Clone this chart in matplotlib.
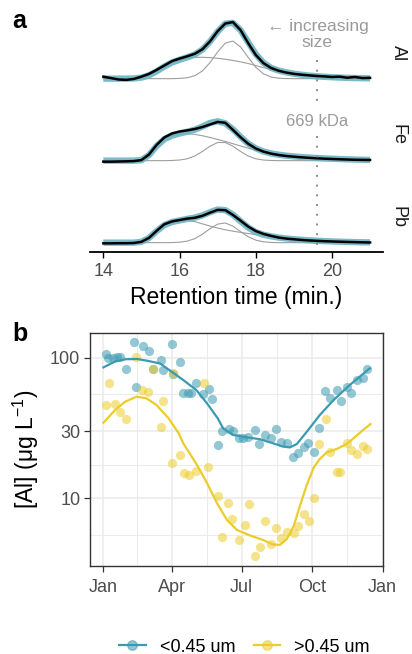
import numpy as np
import matplotlib
matplotlib.use('Agg')
import matplotlib.pyplot as plt
from matplotlib import transforms
from matplotlib.lines import Line2D
from matplotlib.ticker import FixedLocator, NullFormatter

plt.rcParams['font.family'] = ['Liberation Sans', 'DejaVu Sans']
plt.rcParams['mathtext.fontset'] = 'custom'
plt.rcParams['mathtext.rm'] = 'Liberation Sans'
plt.rcParams['mathtext.it'] = 'Liberation Sans:italic'
plt.rcParams['mathtext.bf'] = 'Liberation Sans:bold'

# ---------------- Panel a data ----------------
elements = ['Al', 'Fe', 'Pb']
rt = [14.0, 14.2, 14.4, 14.6, 14.8, 15.0, 15.2, 15.4, 15.6, 15.8, 16.0, 16.2,
      16.4, 16.6, 16.8, 17.0, 17.2, 17.4, 17.6, 17.8, 18.0, 18.2, 18.4, 18.6,
      18.8, 19.0, 19.2, 19.4, 19.6, 19.8, 20.0, 20.2, 20.4, 20.6, 20.8, 21.0]

al_signal = [0.035, 0.01, -0.015, -0.022, -0.005, 0.035, 0.085, 0.155, 0.232, 0.31, 0.355, 0.395,
             0.44, 0.52, 0.66, 0.84, 0.975, 1.0, 0.86, 0.63, 0.42, 0.275, 0.19, 0.14,
             0.108, 0.085, 0.07, 0.058, 0.047, 0.04, 0.03, 0.036, 0.016, 0.03, 0.01, 0.014]
al_broad = [0, 0, 0, 0.001, 0.004, 0.018, 0.06, 0.13, 0.215, 0.285, 0.33, 0.36,
            0.375, 0.378, 0.372, 0.36, 0.343, 0.322, 0.298, 0.268, 0.232, 0.196, 0.163, 0.135,
            0.11, 0.088, 0.07, 0.054, 0.043, 0.033, 0.025, 0.019, 0.014, 0.01, 0.008, 0.006]
al_narrow = [0, 0, 0, 0, 0, 0, 0, 0, 0, 0, 0.004, 0.016,
             0.052, 0.136, 0.284, 0.473, 0.629, 0.665, 0.561, 0.377, 0.202, 0.086, 0.029, 0.008,
             0.002, 0, 0, 0, 0, 0, 0, 0, 0, 0, 0, 0]

fe_signal = [-0.018, -0.018, -0.015, -0.012, -0.008, 0.01, 0.11, 0.28, 0.41, 0.48, 0.515, 0.535,
             0.56, 0.595, 0.64, 0.685, 0.67, 0.545, 0.415, 0.3, 0.215, 0.16, 0.125, 0.1,
             0.083, 0.07, 0.059, 0.05, 0.042, 0.035, 0.03, 0.025, 0.02, 0.016, 0.014, 0.012]
fe_broad = [0, 0, 0, 0, 0, 0.008, 0.1, 0.26, 0.38, 0.44, 0.47, 0.478,
            0.465, 0.44, 0.41, 0.375, 0.34, 0.3, 0.26, 0.22, 0.185, 0.152, 0.125, 0.105,
            0.088, 0.075, 0.064, 0.055, 0.047, 0.04, 0.034, 0.029, 0.024, 0.02, 0.016, 0.013]
fe_narrow = [0, 0, 0, 0, 0, 0, 0, 0, 0, 0.003, 0.011, 0.033,
             0.082, 0.163, 0.256, 0.321, 0.321, 0.256, 0.163, 0.082, 0.033, 0.011, 0.003, 0,
             0, 0, 0, 0, 0, 0, 0, 0, 0, 0, 0, 0]

pb_signal = [-0.012, -0.012, -0.01, -0.01, -0.006, 0.015, 0.085, 0.21, 0.325, 0.375, 0.4, 0.425,
             0.44, 0.475, 0.53, 0.58, 0.575, 0.49, 0.39, 0.285, 0.205, 0.155, 0.12, 0.09,
             0.072, 0.06, 0.048, 0.039, 0.032, 0.026, 0.021, 0.017, 0.013, 0.01, 0.006, 0.003]
pb_broad = [0, 0, 0, 0, 0, 0.015, 0.085, 0.205, 0.31, 0.363, 0.385, 0.393,
            0.372, 0.333, 0.293, 0.258, 0.228, 0.203, 0.182, 0.162, 0.143, 0.125, 0.108, 0.09,
            0.074, 0.061, 0.05, 0.041, 0.033, 0.027, 0.022, 0.017, 0.013, 0.01, 0.007, 0.005]
pb_narrow = [0, 0, 0, 0, 0, 0, 0, 0, 0, 0.002, 0.008, 0.027,
             0.071, 0.149, 0.247, 0.328, 0.348, 0.293, 0.197, 0.106, 0.045, 0.015, 0.004, 0,
             0, 0, 0, 0, 0, 0, 0, 0, 0, 0, 0, 0]

marker_rt = 19.62
rt_ticks = [14, 16, 18, 20]

# ---------------- Panel b data ----------------
month_ticks = [0, 90, 181, 273, 365]
month_labels = ['Jan', 'Apr', 'Jul', 'Oct', 'Jan']
month_minor = [45, 135.5, 227, 319]

small_day = [4, 7, 14, 19, 23, 30, 41, 52, 60, 44, 65, 76, 79, 90, 92, 101, 104, 111, 115, 122,
             131, 138, 143, 155, 164, 170, 150, 177, 183, 190, 198, 204, 212, 220, 226, 233,
             240, 248, 254, 262, 268, 275, 282, 290, 296, 306, 310, 318, 324, 331, 339, 345]
small_al = [107, 99, 99, 101, 102, 83, 129, 121, 112, 62, 83, 97, 82, 125, 77, 93, 56, 56, 56, 66,
            55, 60, 51, 30, 31, 30, 24, 27, 26.7, 27.4, 30.6, 24.3, 28.2, 26.7, 30.9, 25,
            24.6, 19.7, 20.9, 23.3, 24.8, 21.4, 31.5, 58, 52, 59, 49, 62, 56, 69, 72, 83]

large_day = [4, 8, 16, 23, 30, 44, 51, 59, 65, 78, 76, 92, 132, 90, 101, 106, 113, 122, 137, 150,
             163, 168, 156, 178, 185, 191, 199, 205, 212, 220, 226, 233, 240, 249, 255, 262,
             269, 276, 282, 291, 296, 306, 309, 319, 324, 331, 339, 344]
large_al = [46.1, 66.4, 46.8, 41.4, 36.9, 102, 59.4, 57, 82.7, 48.9, 32, 77.4, 66.4, 17.9, 20.3,
            15.2, 14.6, 15.7, 16.8, 10.4, 9.3, 7.1, 5.3, 5.0, 6.4, 9.1, 3.9, 4.5, 6.9, 4.7, 6.1,
            5.2, 5.7, 5.65, 6.3, 7.7, 6.9, 10.0, 24.3, 36.6, 21.3, 15.4, 15.4, 24.9, 22.2, 20.6,
            23.5, 22.3]

small_smooth_day = [1, 16, 30, 45, 58, 75, 88, 105, 122, 136, 150, 157, 170, 188, 205, 222,
                    235, 244, 253, 266, 283, 301, 322, 348]
small_smooth = [85.4, 94, 97.6, 97.9, 95.2, 90.9, 80.8, 69.4, 58.9, 47.3, 37.0, 31.4, 28.2,
                27.1, 26.3, 24.6, 23.3, 23.0, 24.3, 29.7, 39.1, 50.0, 63.9, 84.0]

large_smooth_day = [1, 16, 29, 44, 57, 70, 86, 99, 105, 123, 136, 149, 162, 175, 192, 209, 222,
                    231, 240, 249, 257, 266, 275, 283, 292, 305, 318, 327, 338, 349]
large_smooth = [34.5, 42.4, 48.6, 52.8, 51.4, 46.1, 37.0, 29.0, 24.6, 17.2, 12.8, 9.2, 7.0,
                5.94, 5.43, 5.04, 4.68, 4.65, 5.12, 6.34, 8.8, 12.4, 16.5, 19.0, 21.2, 22.4,
                24.3, 26.7, 30.1, 33.7]

y_major = [10, 30, 100]
y_minor = [5.48, 17.32, 54.77]
series_labels = ['<0.45 um', '>0.45 um']

# ---------------- Style ----------------
W, H = 412, 654
BLUE = '#3B9AB2'
YELLOW = '#EBCC2A'
FIT = '#6DB3C3'
COMP = '#9E9E9E'
ANNOT = '#9A9A9A'

def fx(px):
    return px / W

def fy(py):
    return 1 - py / H

fig = plt.figure(figsize=(W / 100, H / 100), dpi=100)

# ---------------- Panel a ----------------
rows = [(17.7, 87.7), (99.7, 169.7), (181.7, 251.7)]
series = [(al_signal, al_broad, al_narrow), (fe_signal, fe_broad, fe_narrow),
          (pb_signal, pb_broad, pb_narrow)]
axes_a = []
for i, el in enumerate(elements):
    top, bot = rows[i]
    ax = fig.add_axes([fx(90), fy(bot), fx(383.4) - fx(90), (bot - top) / H])
    sig, b1, b2 = series[i]
    fit = np.array(b1) + np.array(b2)
    ax.plot(rt, b1, color=COMP, lw=0.8, zorder=1)
    ax.plot(rt, b2, color=COMP, lw=0.8, zorder=1)
    ax.plot(rt, fit, color=FIT, lw=4.6, alpha=0.9, zorder=2, solid_capstyle='butt')
    ax.plot(rt, sig, color='black', lw=1.8, zorder=3)
    ax.set_xlim(13.65, 21.35)
    ax.set_ylim(-0.16, 1.078)
    for s in ax.spines.values():
        s.set_visible(False)
    ax.set_yticks([])
    ax.patch.set_alpha(0)
    ax.text(1.05, 0.5, el, transform=ax.transAxes, rotation=-90, ha='center', va='center',
            fontsize=13, color='#1A1A1A')
    if i < 2:
        ax.set_xticks([])
    else:
        ax.spines['bottom'].set_visible(True)
        ax.spines['bottom'].set_linewidth(1.3)
        ax.spines['bottom'].set_color('black')
        ax.set_xticks(rt_ticks)
        ax.tick_params(axis='x', direction='out', length=4, width=1.0, color='black',
                       labelsize=13, labelcolor='#4D4D4D', pad=4)
    axes_a.append(ax)

trans = transforms.blended_transform_factory(axes_a[2].transData, fig.transFigure)
for y0, y1 in [(60, 103), (136, 251.7)]:
    fig.add_artist(Line2D([marker_rt, marker_rt], [fy(y0), fy(y1)], transform=trans,
                          color='#8C8C8C', lw=1.4, linestyle=(0, (1, 4))))
fig.text(marker_rt, fy(34.5), '\u2190 increasing\nsize', transform=trans, ha='center',
         va='center', fontsize=12.5, color=ANNOT, linespacing=1.15)
fig.text(marker_rt, fy(121), '669 kDa', transform=trans, ha='center', va='center',
         fontsize=12, color=ANNOT)
fig.text(fx(236.5), fy(297.5), 'Retention time (min.)', ha='center', va='center',
         fontsize=16.5, color='black')

# ---------------- Panel b ----------------
axb = fig.add_axes([fx(90), fy(566), fx(383.4) - fx(90), 233 / H])
axb.set_yscale('log')
axb.set_xlim(-16.6, 365.9)
axb.set_ylim(3.29, 150)
axb.yaxis.set_major_locator(FixedLocator(y_major))
axb.set_yticklabels([str(v) for v in y_major])
axb.yaxis.set_minor_locator(FixedLocator(y_minor))
axb.yaxis.set_minor_formatter(NullFormatter())
axb.set_xticks(month_ticks)
axb.set_xticklabels(month_labels)
axb.xaxis.set_minor_locator(FixedLocator(month_minor))
axb.set_axisbelow(True)
axb.grid(which='major', color='#EBEBEB', lw=1.1)
axb.grid(which='minor', color='#EBEBEB', lw=0.7)
axb.tick_params(which='major', direction='out', length=4, width=0.9, color='#333333',
                labelsize=13, labelcolor='#4D4D4D', pad=3)
axb.tick_params(axis='x', which='major', pad=5)
axb.tick_params(which='minor', length=0)
for s in axb.spines.values():
    s.set_color('#333333')
    s.set_linewidth(1.0)

axb.scatter(small_day, small_al, s=44, color=BLUE, alpha=0.55, linewidths=0, zorder=2)
axb.scatter(large_day, large_al, s=44, color=YELLOW, alpha=0.55, linewidths=0, zorder=2)
axb.plot(small_smooth_day, small_smooth, color=BLUE, lw=1.6, zorder=3)
axb.plot(large_smooth_day, large_smooth, color=YELLOW, lw=1.6, zorder=3)

fig.text(fx(26), fy(449), '[Al] (\u03bcg L$^{-1}$)', rotation=90, ha='center', va='center',
         fontsize=16.5, color='black')

def handle(c):
    rgba = matplotlib.colors.to_rgba(c, 0.55)
    return Line2D([], [], color=c, lw=1.6, marker='o', markersize=6.8,
                  markerfacecolor=rgba, markeredgecolor=rgba)

fig.legend([handle(BLUE), handle(YELLOW)], series_labels, loc='center',
           bbox_to_anchor=(fx(244.5), fy(647)), ncol=2, frameon=False, fontsize=13,
           handlelength=1.45, handletextpad=0.8, columnspacing=1.0)

# panel letters
fig.text(fx(12), fy(28.3), 'a', fontsize=18, fontweight='bold', va='baseline', ha='left')
fig.text(fx(12), fy(340.7), 'b', fontsize=18, fontweight='bold', va='baseline', ha='left')

fig.savefig('out.png', dpi=100)
